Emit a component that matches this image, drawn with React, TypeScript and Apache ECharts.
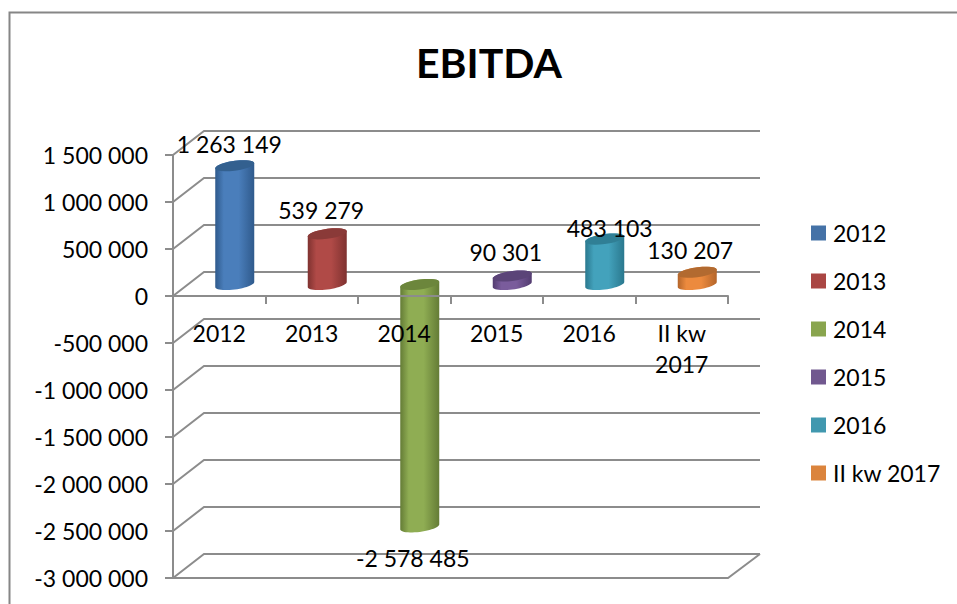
import React, { useEffect, useRef } from "react";
import * as echarts from "echarts";

const categories = ["2012", "2013", "2014", "2015", "2016", "II kw\n2017"];
const legendNames = ["2012", "2013", "2014", "2015", "2016", "II kw 2017"];
const values = [1263149, 539279, -2578485, 90301, 483103, 130207];
const yTicks = [1500000, 1000000, 500000, 0, -500000, -1000000, -1500000, -2000000, -2500000, -3000000];
const baseColors = ["#4A7EBB", "#B04A47", "#8FAD53", "#7A5C9C", "#43A2BC", "#EC8A3E"];
const edgeColors = ["#2F5A8C", "#7F3230", "#647C36", "#533C70", "#2A788E", "#B4652A"];
const capColors = ["#33608F", "#8A3A38", "#6C863C", "#5B4478", "#307F95", "#B26A30"];
const legendColors = ["#4572A7", "#AA4643", "#89A54E", "#71588F", "#4198AF", "#DB843D"];
const labelShift = [-5.5, -6, -7, -6.5, 5, -7];
const labelRise = [21.5, 23.5, 0, 24.5, 11.5, 22.5];

const FONT = "Lato";
const GRAY = "#8C8C8C";
const DX = 31;
const DY = 24;

const fmt = (v: number) => {
  const s = String(Math.abs(v)).replace(/\B(?=(\d{3})+(?!\d))/g, " ");
  return (v < 0 ? "-" : "") + s;
};

const ellipsePts = (cx: number, cy: number, from: number, to: number) => {
  const pts: number[][] = [];
  const n = 24;
  for (let i = 0; i <= n; i++) {
    const t = from + ((to - from) * i) / n;
    pts.push([cx + 19.5 * Math.cos(t), cy + 5 * Math.sin(t) - 2.5 * Math.cos(t)]);
  }
  return pts;
};

const wallSeries = {
  type: "custom",
  silent: true,
  z: 1,
  coordinateSystem: "cartesian2d",
  data: yTicks.map((t) => [0, t]),
  renderItem: (_p: any, api: any) => {
    const t = api.value(1);
    const r = api.coord([0, t])[1];
    const left = (api.coord([0, t])[0] as number) - 46.25;
    const right = left + 555;
    const children: any[] = [
      {
        type: "polyline",
        shape: { points: [[left, r], [left + DX, r - DY], [right + DX + 1, r - DY]] },
        style: { stroke: GRAY, lineWidth: 2, fill: "none" },
      },
    ];
    if (t === -3000000) {
      children.push({
        type: "polyline",
        shape: { points: [[left, r], [right, r], [right + DX + 1, r - DY]] },
        style: { stroke: GRAY, lineWidth: 2, fill: "none" },
      });
    }
    return { type: "group", children };
  },
};

const barSeries = values.map((v, i) => ({
  type: "custom",
  name: legendNames[i],
  coordinateSystem: "cartesian2d",
  z: 3,
  itemStyle: { color: legendColors[i] },
  data: [[i, v]],
  clip: false,
  renderItem: (_p: any, api: any) => {
    const idx = api.value(0);
    const val = api.value(1);
    const base = api.coord([idx, 0]);
    const end = api.coord([idx, val]);
    const cx = base[0] + 15.5;
    const yBase = base[1] - 11.5;
    const yEnd = end[1] - 11.5;
    const yTop = Math.min(yBase, yEnd);
    const yBot = Math.max(yBase, yEnd);
    const body = [...ellipsePts(cx, yTop, Math.PI, 2 * Math.PI), ...ellipsePts(cx, yBot, 0, Math.PI)];
    const grad = new echarts.graphic.LinearGradient(0, 0, 1, 0, [
      { offset: 0, color: edgeColors[i] },
      { offset: 0.22, color: baseColors[i] },
      { offset: 0.6, color: baseColors[i] },
      { offset: 1, color: edgeColors[i] },
    ]);
    const labelY = val < 0 ? yBot + 31 : yTop - labelRise[i];
    return {
      type: "group",
      children: [
        { type: "polygon", shape: { points: body }, style: { fill: grad } },
        {
          type: "polygon",
          shape: { points: ellipsePts(cx, yTop, 0, 2 * Math.PI) },
          style: { fill: capColors[i] },
        },
        {
          type: "text",
          z2: 50,
          style: {
            text: fmt(val),
            x: cx + labelShift[i],
            y: labelY,
            align: "center",
            verticalAlign: "middle",
            font: `23px ${FONT}`,
            fill: "#000",
          },
        },
      ],
    };
  },
}));

export default function App() {
  const ref = useRef<HTMLDivElement>(null);
  useEffect(() => {
    const chart = echarts.init(ref.current!, undefined, { renderer: "svg" });
    chart.setOption({
      animation: false,
      backgroundColor: "#fff",
      textStyle: { fontFamily: FONT },
      title: {
        text: "EBITDA",
        left: 484,
        top: 37,
        textAlign: "center",
        textStyle: { fontFamily: FONT, fontSize: 41, fontWeight: "bold", color: "#000" },
      },
      legend: {
        data: legendNames,
        orient: "vertical",
        left: 811,
        top: 221,
        padding: 0,
        itemWidth: 15,
        itemHeight: 15,
        itemGap: 24,
        icon: "rect",
        textStyle: { fontFamily: FONT, fontSize: 23, color: "#000", lineHeight: 24, padding: [0, 0, 0, 2] },
      },
      grid: { left: 173, top: 155, width: 555, height: 423, outerBoundsMode: "none" },
      xAxis: {
        type: "category",
        data: categories,
        z: 6,
        axisLine: { onZero: true, lineStyle: { color: GRAY, width: 2 } },
        axisTick: { show: true, length: 8, alignWithLabel: false, lineStyle: { color: GRAY, width: 2 } },
        axisLabel: { color: "#000", fontFamily: FONT, fontSize: 23, margin: -261, lineHeight: 31, interval: 0, hideOverlap: false },
        splitLine: { show: false },
      },
      yAxis: {
        type: "value",
        min: -3000000,
        max: 1500000,
        interval: 500000,
        z: 6,
        axisLine: { show: true, lineStyle: { color: GRAY, width: 2 } },
        axisTick: { show: true, length: 8, lineStyle: { color: GRAY, width: 2 } },
        axisLabel: { color: "#000", fontFamily: FONT, fontSize: 23, margin: 25, formatter: (v: number) => fmt(v) },
        splitLine: { show: false },
      },
      graphic: [
        { type: "polyline", shape: { points: [[9.5, 604], [9.5, 12.5], [957, 12.5]] }, style: { stroke: "#868686", lineWidth: 2, fill: "none" } },
      ],
      series: [wallSeries, ...barSeries],
    });
    return () => chart.dispose();
  }, []);
  return <div ref={ref} style={{ position: "fixed", left: 0, top: 0, width: 957, height: 604 }} />;
}
